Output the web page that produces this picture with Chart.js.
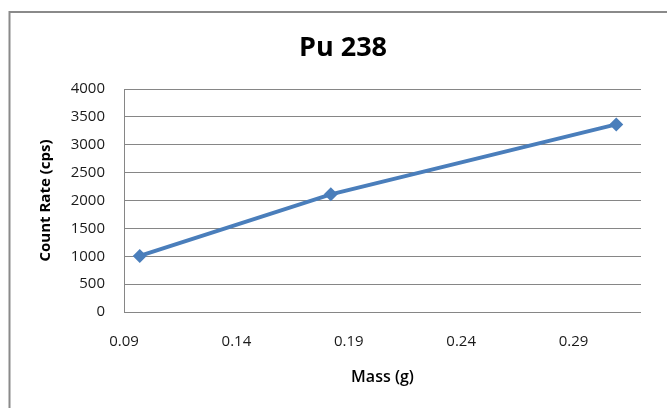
<!DOCTYPE html>
<html>
<head>
<meta charset="utf-8">
<script src="https://cdn.jsdelivr.net/npm/chart.js@4/dist/chart.umd.min.js"></script>
<style>
  html, body { margin: 0; padding: 0; background: #fff; overflow: hidden; }
  #wrap { width: 667px; height: 408px; }
</style>
</head>
<body>
<div id="wrap"><canvas id="puChart" width="667" height="408"></canvas></div>
<script>
// --- Data ---
const chartTitle = 'Pu 238';
const massValues = [0.097, 0.182, 0.309];      // Mass (g)
const countRates = [1005, 2110, 3365];         // Count Rate (cps)
const xTicks = [0.09, 0.14, 0.19, 0.24, 0.29];
const yTicks = [0, 500, 1000, 1500, 2000, 2500, 3000, 3500, 4000];

const lineBlue = '#4a7ebb';
const gridGrey = '#868686';
const fontFamily = '"Open Sans", "Liberation Sans", sans-serif';

// Outer frame + white background (the Excel chart border)
const framePlugin = {
    id: 'frame',
    beforeDraw(chart) {
        const ctx = chart.ctx;
        ctx.save();
        ctx.fillStyle = '#fff';
        ctx.fillRect(0, 0, chart.width, chart.height);
        ctx.strokeStyle = '#8a8a8a';
        ctx.lineWidth = 2;
        ctx.strokeRect(9.5, 12, 720, 460);
        ctx.restore();
    }
};

// Title drawn offset like in the original (centred on the Excel chart frame)
const titlePlugin = {
    id: 'offsetTitle',
    afterDraw(chart) {
        const ctx = chart.ctx;
        ctx.save();
        ctx.font = 'bold 27px ' + fontFamily;
        ctx.fillStyle = '#000';
        ctx.textAlign = 'center';
        ctx.textBaseline = 'alphabetic';
        ctx.fillText(chartTitle, 343, 56);
        ctx.restore();
    }
};

const points = massValues.map((m, i) => ({ x: m, y: countRates[i] }));

new Chart(document.getElementById('puChart'), {
    type: 'scatter',
    data: {
        datasets: [{
            label: chartTitle,
            data: points,
            showLine: true,
            borderColor: lineBlue,
            backgroundColor: lineBlue,
            borderWidth: 4,
            tension: 0,
            pointStyle: 'rectRot',
            pointRadius: 7,
            pointBorderWidth: 0
        }]
    },
    options: {
        responsive: false,
        animation: false,
        layout: { padding: { top: 89, right: 26, bottom: 0, left: 0 } },
        plugins: {
            legend: { display: false },
            tooltip: { enabled: false },
            title: { display: false }
        },
        scales: {
            x: {
                type: 'linear',
                min: 0.09,
                max: 0.32,
                afterBuildTicks: (scale) => {
                    scale.ticks = xTicks.map(v => ({ value: v }));
                },
                afterFit: (scale) => { scale.height = 96; },
                grid: { display: false, drawTicks: false },
                border: { display: false },
                ticks: {
                    color: '#1a1a1a',
                    padding: 21,
                    maxRotation: 0,
                    font: { family: fontFamily, size: 15 },
                    callback: (v) => Number(v).toFixed(2)
                },
                title: {
                    display: true,
                    text: 'Mass (g)',
                    color: '#000',
                    padding: { top: 0, bottom: 21 },
                    font: { family: fontFamily, size: 16, weight: '600' }
                }
            },
            y: {
                min: 0,
                max: 4000,
                afterBuildTicks: (scale) => {
                    scale.ticks = yTicks.map(v => ({ value: v }));
                },
                afterFit: (scale) => { scale.width = 124; },
                grid: { color: gridGrey, lineWidth: 1, drawTicks: false },
                border: { display: true, color: gridGrey, width: 1 },
                ticks: {
                    color: '#1a1a1a',
                    padding: 19,
                    font: { family: fontFamily, size: 15 },
                    callback: (v) => String(v)
                },
                title: {
                    display: true,
                    text: 'Count Rate (cps)',
                    color: '#000',
                    padding: { top: 37, bottom: 0 },
                    font: { family: fontFamily, size: 15, weight: 'bold' }
                }
            }
        }
    },
    plugins: [framePlugin, titlePlugin]
});
</script>
</body>
</html>
